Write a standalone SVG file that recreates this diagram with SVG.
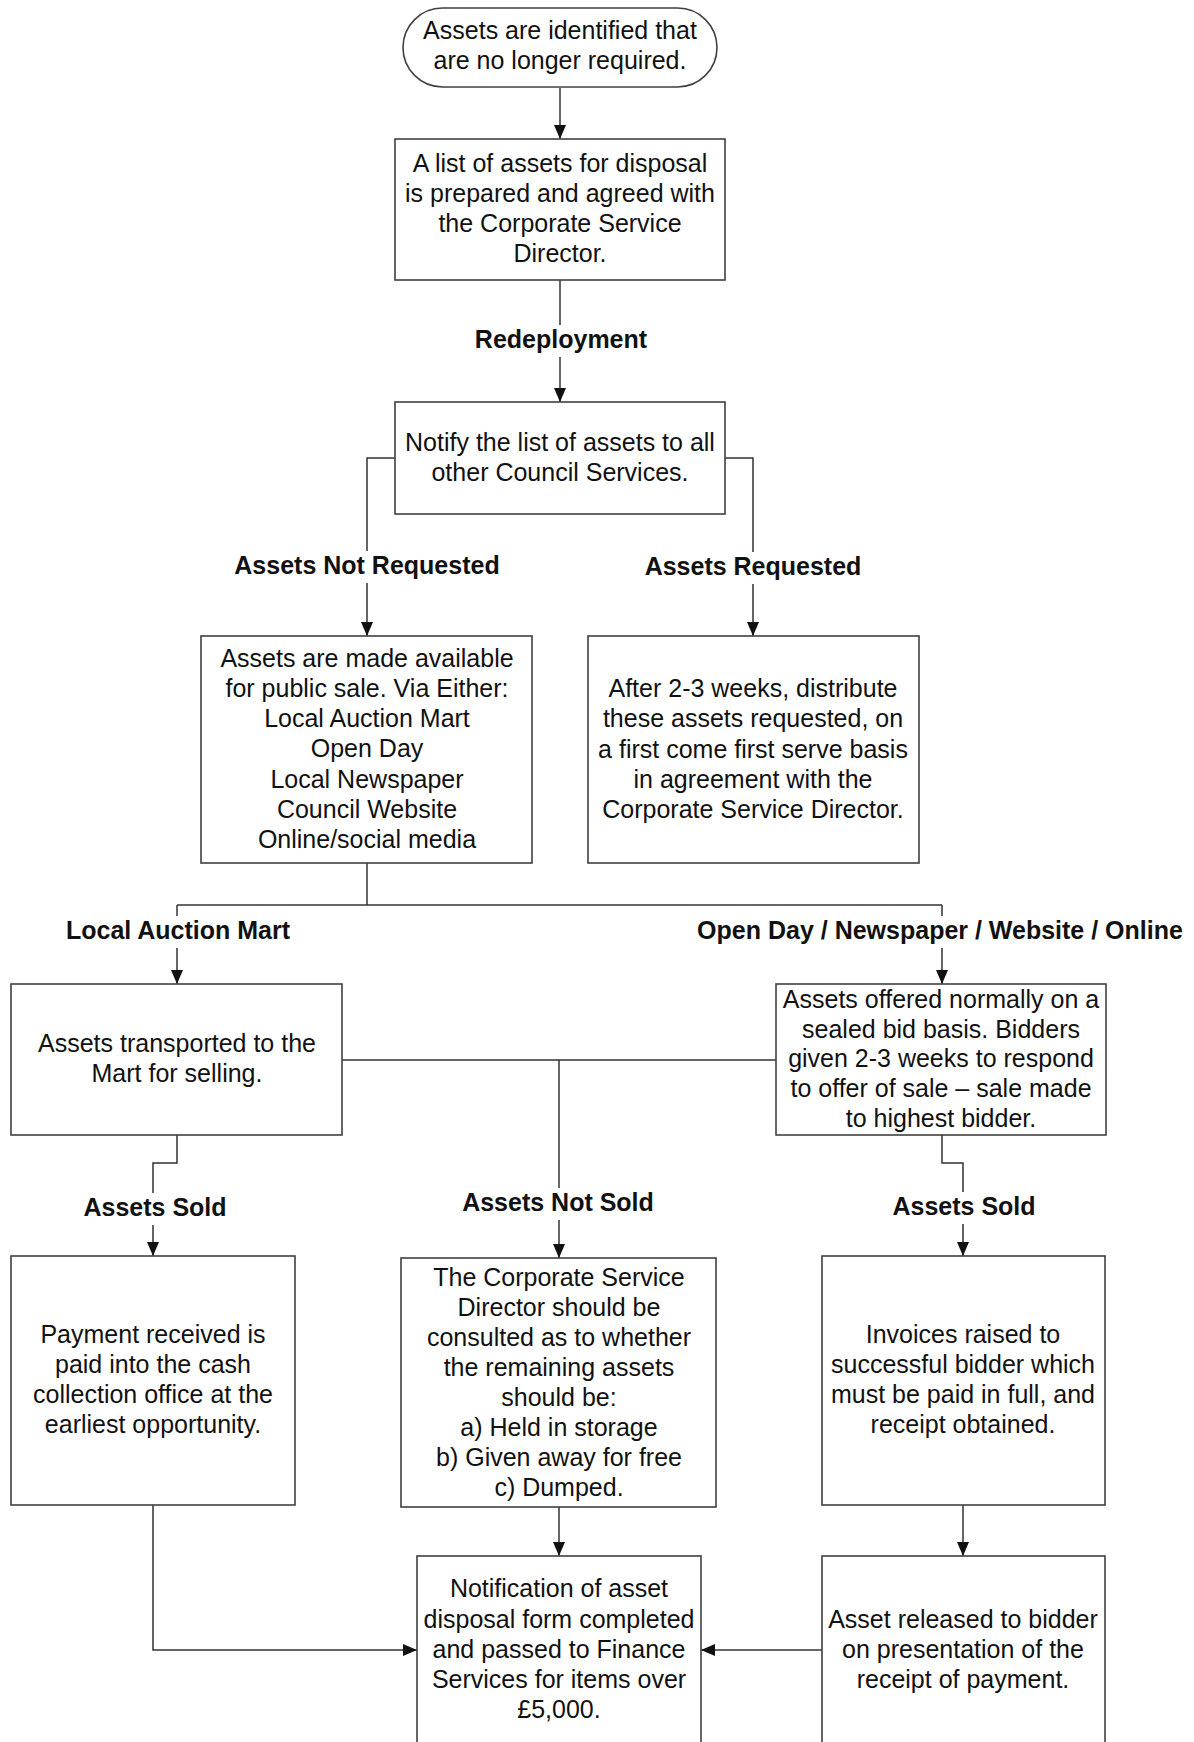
<svg xmlns="http://www.w3.org/2000/svg" width="1194" height="1742" viewBox="0 0 1194 1742">
<style>
.box{fill:#fff;stroke:#404040;stroke-width:1.6}
.c{fill:none;stroke:#333;stroke-width:1.5}
.gap{fill:#fff}
.t{font-family:"Liberation Sans",Arial,sans-serif;font-size:25px;fill:#111;text-anchor:middle}
.l{font-family:"Liberation Sans",Arial,sans-serif;font-size:25px;font-weight:bold;fill:#111;text-anchor:middle}
</style>
<defs>
<marker id="ah" markerUnits="userSpaceOnUse" markerWidth="14" markerHeight="12" viewBox="0 0 14 12" refX="14" refY="6" orient="auto">
<path d="M0,0 L14,6 L0,12 z" fill="#111"/>
</marker>
</defs>
<rect width="1194" height="1742" fill="#fff"/>
<g id="connectors">
<path class="c" d="M560,88 V139" marker-end="url(#ah)"/>
<path class="c" d="M560,280 V402" marker-end="url(#ah)"/>
<path class="c" d="M395,458 H367 V636" marker-end="url(#ah)"/>
<path class="c" d="M725,458 H753 V636" marker-end="url(#ah)"/>
<path class="c" d="M367,863 V905"/>
<path class="c" d="M177,905 H942"/>
<path class="c" d="M177,905 V984" marker-end="url(#ah)"/>
<path class="c" d="M942,905 V984" marker-end="url(#ah)"/>
<path class="c" d="M342,1060 H776"/>
<path class="c" d="M559,1060 V1258" marker-end="url(#ah)"/>
<path class="c" d="M177,1135 V1163 H153 V1256" marker-end="url(#ah)"/>
<path class="c" d="M942,1135 V1163 H963 V1256" marker-end="url(#ah)"/>
<path class="c" d="M559,1507 V1556" marker-end="url(#ah)"/>
<path class="c" d="M963,1505 V1556" marker-end="url(#ah)"/>
<path class="c" d="M153,1505 V1650 H417" marker-end="url(#ah)"/>
<path class="c" d="M822,1650 H701" marker-end="url(#ah)"/>
<rect class="gap" x="555" y="325" width="12" height="32"/>
<rect class="gap" x="361" y="551" width="12" height="32"/>
<rect class="gap" x="747" y="552" width="12" height="32"/>
<rect class="gap" x="171" y="916" width="12" height="32"/>
<rect class="gap" x="936" y="916" width="12" height="32"/>
<rect class="gap" x="553" y="1188" width="12" height="32"/>
<rect class="gap" x="147" y="1193" width="12" height="32"/>
<rect class="gap" x="957" y="1192" width="12" height="32"/>
<text class="l" x="561" y="348">Redeployment</text>
<text class="l" x="367" y="574">Assets Not Requested</text>
<text class="l" x="753" y="575">Assets Requested</text>
<text class="l" x="178" y="939">Local Auction Mart</text>
<text class="l" x="940" y="939">Open Day / Newspaper / Website / Online</text>
<text class="l" x="558" y="1211">Assets Not Sold</text>
<text class="l" x="155" y="1216">Assets Sold</text>
<text class="l" x="964" y="1215">Assets Sold</text>
</g>
<g id="n1">
<rect class="box" x="403" y="8" width="314" height="79" rx="39.5"/>
<text class="t" x="560" y="39">Assets are identified that</text>
<text class="t" x="560" y="69">are no longer required.</text>
</g>
<g id="n2">
<rect class="box" x="395" y="139" width="330" height="141"/>
<text class="t" x="560" y="172">A list of assets for disposal</text>
<text class="t" x="560" y="202">is prepared and agreed with</text>
<text class="t" x="560" y="232">the Corporate Service</text>
<text class="t" x="560" y="262">Director.</text>
</g>
<g id="n3">
<rect class="box" x="395" y="402" width="330" height="112"/>
<text class="t" x="560" y="451">Notify the list of assets to all</text>
<text class="t" x="560" y="481">other Council Services.</text>
</g>
<g id="n4">
<rect class="box" x="201" y="636" width="331" height="227"/>
<text class="t" x="367" y="667">Assets are made available</text>
<text class="t" x="367" y="697">for public sale. Via Either:</text>
<text class="t" x="367" y="727">Local Auction Mart</text>
<text class="t" x="367" y="757">Open Day</text>
<text class="t" x="367" y="788">Local Newspaper</text>
<text class="t" x="367" y="818">Council Website</text>
<text class="t" x="367" y="848">Online/social media</text>
</g>
<g id="n5">
<rect class="box" x="588" y="636" width="331" height="227"/>
<text class="t" x="753" y="697">After 2-3 weeks, distribute</text>
<text class="t" x="753" y="727">these assets requested, on</text>
<text class="t" x="753" y="758">a first come first serve basis</text>
<text class="t" x="753" y="788">in agreement with the</text>
<text class="t" x="753" y="818">Corporate Service Director.</text>
</g>
<g id="n6">
<rect class="box" x="11" y="984" width="331" height="151"/>
<text class="t" x="177" y="1052">Assets transported to the</text>
<text class="t" x="177" y="1082">Mart for selling.</text>
</g>
<g id="n7">
<rect class="box" x="776" y="984" width="330" height="151"/>
<text class="t" x="941" y="1008">Assets offered normally on a</text>
<text class="t" x="941" y="1038">sealed bid basis. Bidders</text>
<text class="t" x="941" y="1067">given 2-3 weeks to respond</text>
<text class="t" x="941" y="1097">to offer of sale – sale made</text>
<text class="t" x="941" y="1127">to highest bidder.</text>
</g>
<g id="n9">
<rect class="box" x="11" y="1256" width="284" height="249"/>
<text class="t" x="153" y="1343">Payment received is</text>
<text class="t" x="153" y="1373">paid into the cash</text>
<text class="t" x="153" y="1403">collection office at the</text>
<text class="t" x="153" y="1433">earliest opportunity.</text>
</g>
<g id="n8">
<rect class="box" x="401" y="1258" width="315" height="249"/>
<text class="t" x="559" y="1286">The Corporate Service</text>
<text class="t" x="559" y="1316">Director should be</text>
<text class="t" x="559" y="1346">consulted as to whether</text>
<text class="t" x="559" y="1376">the remaining assets</text>
<text class="t" x="559" y="1406">should be:</text>
<text class="t" x="559" y="1436">a) Held in storage</text>
<text class="t" x="559" y="1466">b) Given away for free</text>
<text class="t" x="559" y="1496">c) Dumped.</text>
</g>
<g id="n10">
<rect class="box" x="822" y="1256" width="283" height="249"/>
<text class="t" x="963" y="1343">Invoices raised to</text>
<text class="t" x="963" y="1373">successful bidder which</text>
<text class="t" x="963" y="1403">must be paid in full, and</text>
<text class="t" x="963" y="1433">receipt obtained.</text>
</g>
<g id="n11">
<rect class="box" x="417" y="1556" width="284" height="210"/>
<text class="t" x="559" y="1597">Notification of asset</text>
<text class="t" x="559" y="1628">disposal form completed</text>
<text class="t" x="559" y="1658">and passed to Finance</text>
<text class="t" x="559" y="1688">Services for items over</text>
<text class="t" x="559" y="1718">£5,000.</text>
</g>
<g id="n12">
<rect class="box" x="822" y="1556" width="283" height="210"/>
<text class="t" x="963" y="1628">Asset released to bidder</text>
<text class="t" x="963" y="1658">on presentation of the</text>
<text class="t" x="963" y="1688">receipt of payment.</text>
</g>
</svg>
